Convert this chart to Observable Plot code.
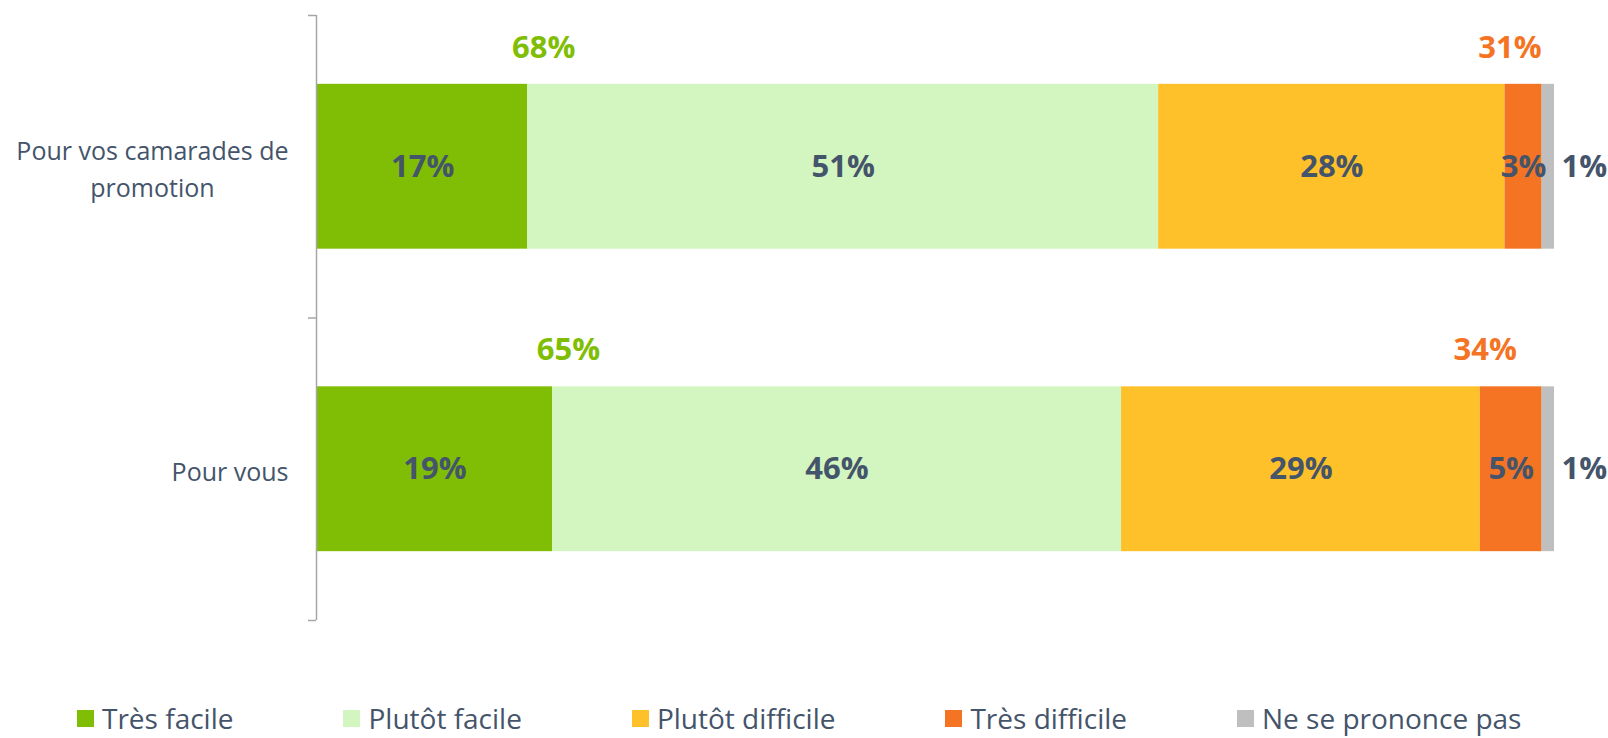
<!DOCTYPE html>
<html><head><meta charset="utf-8">
<script src="https://cdn.jsdelivr.net/npm/d3@7"></script>
<script src="https://cdn.jsdelivr.net/npm/@observablehq/plot@0.6"></script>
<style>
body{margin:0;background:#fff;font-family:"Open Sans",sans-serif;}
#chart{position:relative;width:1608px;height:738px;overflow:hidden;}
#legend{position:absolute;left:77px;top:703px;display:flex;align-items:center;height:30px;line-height:30px;font-size:28px;color:#44546A;white-space:nowrap;}
.item{display:flex;align-items:center;margin-right:110px;}
.sw{width:17px;height:17px;margin-right:8px;}
</style></head><body><div id="chart"></div>
<script>
const categories = ["Pour vos camarades de\npromotion", "Pour vous"];
const answers = ["Très facile", "Plutôt facile", "Plutôt difficile", "Très difficile", "Ne se prononce pas"];
const colors = ["#7FBE04", "#D3F5C0", "#FEC12A", "#F47424", "#BFBFBF"];
const valuesCamarades = [17, 51, 28, 3, 1];
const valuesVous = [19, 46, 29, 5, 1];
const totalFacile = [68, 65];
const totalDifficile = [31, 34];

const series = [valuesCamarades, valuesVous];
const rows = [];
series.forEach((vals, i) => {
  let acc = 0;
  vals.forEach((v, j) => {
    rows.push({i, answer: answers[j], j, value: v, x1: acc, x2: acc + v});
    acc += v;
  });
});
const totals = categories.map((c, i) => {
  const vals = series[i];
  return {i, facile: totalFacile[i], difficile: totalDifficile[i],
    xF: vals[0], xD: vals[0] + vals[1] + vals[2]};
});
const boundaries = d3.range(categories.length + 1).map(k => k - 0.5);
const half = 0.545 / 2;
const dark = "#44546A";
const axisGray = "#A6A6A6";

const plot = Plot.plot({
  width: 1608, height: 690,
  marginLeft: 317, marginRight: 54, marginTop: 15, marginBottom: 70,
  style: {fontFamily: "'Open Sans', sans-serif", background: "#fff"},
  x: {domain: [0, 100], axis: null},
  y: {domain: [boundaries[0], boundaries[boundaries.length - 1]], reverse: true, axis: null},
  color: {domain: answers, range: colors},
  marks: [
    Plot.rectX(rows, {x1: "x1", x2: "x2", y1: d => d.i - half, y2: d => d.i + half, fill: "answer"}),
    Plot.ruleX([0], {stroke: axisGray, strokeWidth: 1.5, dx: -1}),
    Plot.axisY({ticks: boundaries, tickFormat: () => "", label: null, tickSize: 8, stroke: axisGray, strokeWidth: 1.5, anchor: "left", dx: -1}),
    Plot.text(categories, {x: 0, y: (d, i) => i, text: d => d, textAnchor: "end", dx: -29, fontSize: 25, fill: dark, lineHeight: 1.48}),
    Plot.text(rows.filter(d => d.j < answers.length - 1), {x: d => (d.x1 + d.x2) / 2, y: "i", text: d => d.value + "%", fontSize: 31, fontWeight: "bold", fill: dark}),
    Plot.text(rows.filter(d => d.j === answers.length - 1), {x: "x2", y: "i", text: d => d.value + "%", textAnchor: "start", dx: 7, fontSize: 31, fontWeight: "bold", fill: dark}),
    Plot.text(totals, {x: "xF", y: "i", text: d => d.facile + "%", dx: 16, dy: -119, fontSize: 31, fontWeight: "bold", fill: colors[0]}),
    Plot.text(totals, {x: "xD", y: "i", text: d => d.difficile + "%", dx: 5, dy: -119, fontSize: 31, fontWeight: "bold", fill: colors[3]})
  ]
});
const chart = document.getElementById("chart");
chart.appendChild(plot);
plot.querySelectorAll("text").forEach(t => {
  if (t.querySelectorAll("tspan").length > 1) {
    const w = t.getBBox().width;
    t.setAttribute("text-anchor", "middle");
    t.setAttribute("transform", (t.getAttribute("transform") || "") + ` translate(${-w / 2},0)`);
  }
});
const legend = document.createElement("div");
legend.id = "legend";
answers.forEach((a, k) => {
  const it = document.createElement("div");
  it.className = "item";
  if (k === answers.length - 1) it.style.marginRight = "0";
  const sw = document.createElement("div");
  sw.className = "sw"; sw.style.background = colors[k];
  const tx = document.createElement("span");
  tx.textContent = a;
  it.appendChild(sw); it.appendChild(tx);
  legend.appendChild(it);
});
chart.appendChild(legend);
</script></body></html>
